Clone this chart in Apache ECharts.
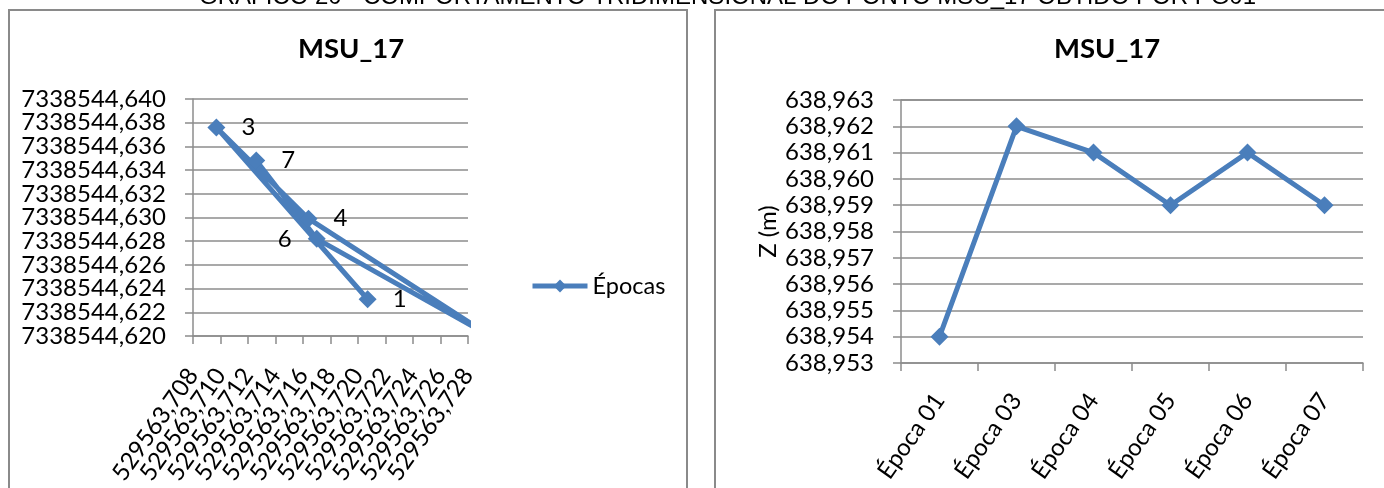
<!DOCTYPE html>
<html>
<head>
<meta charset="utf-8">
<script src="https://cdn.jsdelivr.net/npm/echarts@6/dist/echarts.min.js"></script>
<style>
  html, body { margin: 0; padding: 0; background: #ffffff; }
  #chart { width: 1384px; height: 488px; }
</style>
</head>
<body>
<div id="chart"></div>
<script>
// ---- data ----
const headerText = 'GRÁFICO 20 - COMPORTAMENTO TRIDIMENSIONAL DO PONTO MSU_17 OBTIDO POR PG01';
const chartTitle = 'MSU_17';
const seriesName = 'Épocas';

// planimetric coordinates of the point, one per epoch (E, N)
const epochNumbers = ['1', '3', '4', '5', '6', '7'];
const eastings  = [529563.7207, 529563.7097, 529563.7164, 529563.7299, 529563.7170, 529563.7126];
const northings = [7338544.6231, 7338544.6376, 7338544.6299, 7338544.6198, 7338544.6282, 7338544.6348];
const labelSides = ['right', 'right', 'right', 'right', 'left', 'right'];

const eastTicks = ['529563,708', '529563,710', '529563,712', '529563,714', '529563,716', '529563,718',
                   '529563,720', '529563,722', '529563,724', '529563,726', '529563,728'];
const northTicks = ['7338544,620', '7338544,622', '7338544,624', '7338544,626', '7338544,628', '7338544,630',
                    '7338544,632', '7338544,634', '7338544,636', '7338544,638', '7338544,640'];

// heights per epoch
const epochNames = ['Época 01', 'Época 03', 'Época 04', 'Época 05', 'Época 06', 'Época 07'];
const heights = [638.954, 638.962, 638.961, 638.959, 638.961, 638.959];
const heightTicks = ['638,953', '638,954', '638,955', '638,956', '638,957', '638,958',
                     '638,959', '638,960', '638,961', '638,962', '638,963'];
const heightAxisName = 'Z (m)';

// ---- helpers ----
const num = s => parseFloat(s.replace(',', '.'));
function tickRange(ticks) {
  const min = num(ticks[0]);
  const max = num(ticks[ticks.length - 1]);
  const step = (max - min) / (ticks.length - 1);
  return { min, max, step };
}
// parity: 0 -> even ticks only, 1 -> odd ticks only, null -> all ticks
function tickFormatter(ticks, parity) {
  const r = tickRange(ticks);
  return v => {
    const i = Math.round((v - r.min) / r.step);
    if (parity != null && i % 2 !== parity) return '';
    return ticks[i] || '';
  };
}

const FONT = 'Lato, "Open Sans", sans-serif';
const BLUE = '#4A7EBB';
const GRID_GREY = '#8c8c8c';
const LABEL_SIZE = 24;
const TITLE_SIZE = 27.5;

const eR = tickRange(eastTicks);
const nR = tickRange(northTicks);
const hR = tickRange(heightTicks);

const axisLineStyle = { show: true, lineStyle: { color: GRID_GREY, width: 1.5 } };
const tickStyle = { show: true, length: 8, lineStyle: { color: GRID_GREY, width: 1.5 } };
const splitStyle = { show: true, lineStyle: { color: GRID_GREY, width: 1.5 } };
const labelBase = { color: '#000', fontFamily: FONT, fontSize: LABEL_SIZE };

// The densely packed scatter-axis labels are split over two overlaid axes
// (even / odd ticks) so neighbouring labels never get culled.
function eastAxis(parity, main) {
  return {
    type: 'value', gridIndex: 0, position: 'bottom',
    min: eR.min, max: eR.max, interval: eR.step,
    axisLine: main ? axisLineStyle : { show: false },
    axisTick: main ? tickStyle : { show: false },
    splitLine: { show: false },
    axisLabel: Object.assign({}, labelBase, { rotate: 55, margin: 35, formatter: tickFormatter(eastTicks, parity) })
  };
}
function northAxis(parity, main) {
  return {
    type: 'value', gridIndex: 0, position: 'left',
    min: nR.min, max: nR.max, interval: nR.step,
    axisLine: main ? axisLineStyle : { show: false },
    axisTick: main ? tickStyle : { show: false },
    splitLine: main ? splitStyle : { show: false },
    axisLabel: Object.assign({}, labelBase, { margin: 27, formatter: tickFormatter(northTicks, parity) })
  };
}

const chart = echarts.init(document.getElementById('chart'), null, { renderer: 'canvas' });

const option = {
  animation: false,
  backgroundColor: '#ffffff',
  textStyle: { fontFamily: FONT },
  title: [
    { text: chartTitle, left: 346, top: 30, textAlign: 'center',
      textStyle: { fontFamily: FONT, fontWeight: 'bold', fontSize: TITLE_SIZE, color: '#000' } },
    { text: chartTitle, left: 1102, top: 30, textAlign: 'center',
      textStyle: { fontFamily: FONT, fontWeight: 'bold', fontSize: TITLE_SIZE, color: '#000' } }
  ],
  legend: {
    data: [seriesName],
    left: 525, top: 269,
    itemWidth: 55, itemHeight: 16, itemGap: 5,
    lineStyle: { width: 5 },
    textStyle: { fontFamily: FONT, fontSize: LABEL_SIZE - 0.5, color: '#000' }
  },
  graphic: [
    { type: 'text', left: 199, top: -15, silent: true,
      style: { text: headerText, font: '24px "Liberation Sans", Arial, sans-serif', fill: '#000' } },
    { type: 'rect', silent: true, shape: { x: 9, y: 10, width: 678, height: 500 },
      style: { fill: null, stroke: '#8a8a8a', lineWidth: 2 } },
    { type: 'rect', silent: true, shape: { x: 715, y: 10, width: 700, height: 500 },
      style: { fill: null, stroke: '#8a8a8a', lineWidth: 2 } }
  ],
  grid: [
    { left: 193, top: 99, width: 275, height: 237, containLabel: false },
    { left: 901, top: 100, width: 462, height: 263, containLabel: false }
  ],
  xAxis: [
    eastAxis(0, true),
    eastAxis(1, false),
    {
      type: 'category', gridIndex: 1, data: epochNames, boundaryGap: true,
      axisLine: axisLineStyle,
      axisTick: Object.assign({}, tickStyle, { alignWithLabel: false }),
      splitLine: { show: false },
      axisLabel: Object.assign({}, labelBase, { rotate: 55, margin: 33, interval: 0 })
    }
  ],
  yAxis: [
    northAxis(0, true),
    northAxis(1, false),
    {
      type: 'value', gridIndex: 1,
      min: hR.min, max: hR.max, interval: hR.step,
      axisLine: axisLineStyle, axisTick: tickStyle, splitLine: splitStyle,
      name: heightAxisName, nameLocation: 'middle', nameRotate: 90, nameGap: 121,
      nameTextStyle: { fontFamily: FONT, fontSize: LABEL_SIZE, color: '#000' },
      axisLabel: Object.assign({}, labelBase, { margin: 27, showMinLabel: true, showMaxLabel: true,
        formatter: v => heightTicks[Math.round((v - hR.min) / hR.step)] || '' })
    }
  ],
  series: [
    {
      name: seriesName, type: 'line', xAxisIndex: 0, yAxisIndex: 0,
      clip: true,
      symbol: 'diamond', symbolSize: 18,
      lineStyle: { color: BLUE, width: 5 },
      itemStyle: { color: BLUE },
      data: eastings.map((e, i) => ({
        value: [e, northings[i]],
        label: {
          show: true, position: labelSides[i], distance: 16,
          formatter: epochNumbers[i],
          fontFamily: FONT, fontSize: LABEL_SIZE, color: '#000'
        }
      }))
    },
    {
      name: heightAxisName, type: 'line', xAxisIndex: 2, yAxisIndex: 2,
      symbol: 'diamond', symbolSize: 18,
      lineStyle: { color: BLUE, width: 5 },
      itemStyle: { color: BLUE },
      data: heights
    }
  ]
};

chart.setOption(option);
</script>
</body>
</html>
